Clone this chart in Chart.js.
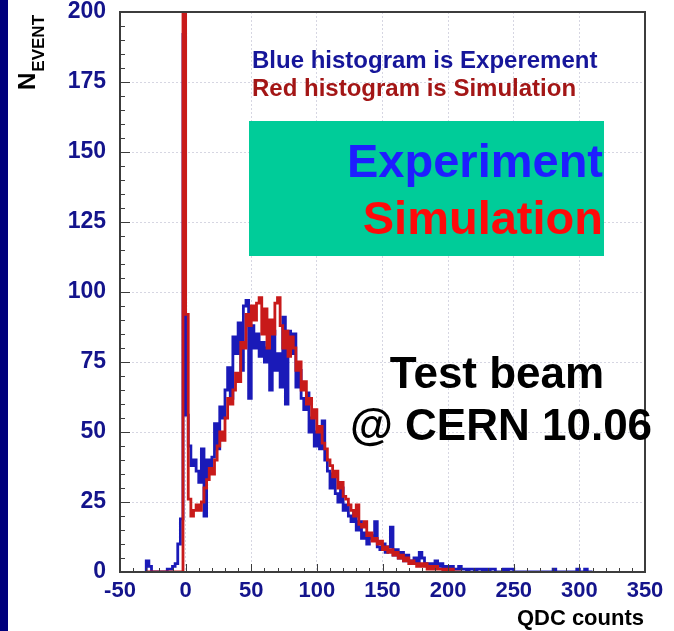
<!DOCTYPE html>
<html>
<head>
<meta charset="utf-8">
<title>QDC counts - test beam</title>
<script src="https://cdn.jsdelivr.net/npm/chart.js@4.4.0/dist/chart.umd.min.js"></script>
<style>
  html, body { margin: 0; padding: 0; background: #fff; }
  #wrap { width: 674px; height: 631px; }
</style>
</head>
<body>
<div id="wrap"><canvas id="qdc" width="674" height="631"></canvas></div>
<script>
// Binning of both histograms (QDC counts)
const binStart = -30;
const binWidth = 2;

// Blue = experiment, one value per bin, starting at -30
const expCounts = [
  0, 4, 2, 0, 0, 0, 0, 0, 0, 1,          // -30 .. -12
  1, 2, 3, 10, 19, 192, 56, 45, 38, 40,  // -10 .. 8
  36, 32, 44, 20, 40, 37, 41, 53, 44, 59, // 10 .. 28
  55, 65, 73, 62, 84, 78, 89, 72, 95, 97, // 30 .. 48
  62, 88, 80, 85, 77, 82, 75, 80, 65, 86, // 50 .. 68
  72, 78, 66, 91, 60, 86, 78, 85, 66, 72, // 70 .. 88
  62, 58, 64, 50, 55, 45, 50, 44, 54, 40, // 90 .. 108
  36, 30, 35, 28, 25, 30, 22, 24, 20, 18, // 110 .. 128
  22, 15, 18, 12, 14, 10, 13, 12, 18, 9,  // 130 .. 148
  8, 10, 7, 9, 16, 6, 8, 5, 7, 4,         // 150 .. 168
  6, 4, 3, 5, 3, 7, 5, 3, 2, 3,           // 170 .. 188
  2, 4, 2, 3, 1, 2, 1, 2, 1, 1,           // 190 .. 208
  2, 1, 1, 0, 1, 1, 0, 1, 1, 0,           // 210 .. 228
  1, 0, 1, 1, 0, 0, 0, 1, 0, 1,           // 230 .. 248
  1, 0, 0, 0, 0, 0, 0, 0, 0, 0,           // 250 .. 268
  0, 0, 0, 0, 0, 0, 1, 0, 0, 0,           // 270 .. 288
  0, 0, 0, 0, 0, 1, 0, 0, 1, 0            // 290 .. 308
];

// Red = simulation, same binning
const simCounts = [
  0, 0, 0, 0, 0, 0, 0, 0, 0, 0,           // -30 .. -12
  0, 0, 0, 0, 0, 400, 92, 26, 20, 22,     // -10 .. 8
  24, 22, 25, 30, 33, 37, 35, 40, 45, 50, // 10 .. 28
  47, 55, 62, 60, 65, 71, 68, 82, 80, 92, // 30 .. 48
  88, 95, 90, 96, 98, 85, 94, 80, 90, 85, // 50 .. 68
  96, 98, 88, 80, 86, 77, 84, 80, 72, 75, // 70 .. 88
  65, 68, 60, 62, 55, 58, 50, 52, 46, 44, // 90 .. 108
  40, 38, 34, 36, 30, 32, 27, 26, 24, 22, // 110 .. 128
  20, 24, 17, 16, 18, 13, 14, 11, 12, 10, // 130 .. 148
  11, 8, 9, 7, 8, 6, 7, 5, 6, 4,          // 150 .. 168
  5, 3, 4, 3, 2, 3, 2, 3, 1, 2,           // 170 .. 188
  1, 2, 1, 1, 0, 1, 0, 1, 0, 0            // 190 .. 208
];

const xTicks = [-50, 0, 50, 100, 150, 200, 250, 300, 350];
const yTicks = [0, 25, 50, 75, 100, 125, 150, 175, 200];

const FONT = "'Liberation Sans', Arial, Helvetica, sans-serif";
const BLUE = '#1a1ab8';
const RED = '#c81a1a';

// bin edges -> step points
function histPoints(counts){
  const pts = counts.map((c, i) => ({ x: binStart + i*binWidth, y: c }));
  pts.push({ x: binStart + counts.length*binWidth, y: 0 });
  return pts;
}

function txt(ctx, s, x, y, size, color, align){
  ctx.font = `bold ${size}px ${FONT}`;
  ctx.fillStyle = color;
  ctx.textAlign = align || 'left';
  ctx.textBaseline = 'alphabetic';
  ctx.fillText(s, x, y);
}

const decorations = {
  id: 'decorations',
  beforeDraw(chart){
    const ctx = chart.ctx;
    ctx.save();
    ctx.fillStyle = '#fff';
    ctx.fillRect(0, 0, chart.width, chart.height);
    ctx.fillStyle = '#00007c';
    ctx.fillRect(0, 0, 8, chart.height);
    ctx.restore();
  },
  beforeDatasetsDraw(chart){
    const ctx = chart.ctx;
    ctx.save();
    // green label box
    ctx.fillStyle = '#00cc99';
    ctx.fillRect(249, 121, 355, 135);
    txt(ctx, 'Experiment', 603, 177, 47, '#1e1eff', 'right');
    txt(ctx, 'Simulation', 603, 234, 47, '#ff0a0a', 'right');
    ctx.restore();
  },
  afterDraw(chart){
    const ctx = chart.ctx;
    const a = chart.chartArea;
    const xs = chart.scales.x, ys = chart.scales.y;
    ctx.save();
    // frame
    ctx.strokeStyle = '#3c3c3c';
    ctx.lineWidth = 2;
    ctx.strokeRect(a.left, a.top, a.right - a.left, a.bottom - a.top);
    // minor / major tick marks
    ctx.lineWidth = 1;
    ctx.beginPath();
    for(let v = 0; v <= 200; v += 5){
      const y = Math.round(ys.getPixelForValue(v)) + 0.5;
      const len = v % 25 === 0 ? 10 : 5;
      ctx.moveTo(a.left, y); ctx.lineTo(a.left + len, y);
    }
    for(let v = -50; v <= 350; v += 10){
      const x = Math.round(xs.getPixelForValue(v)) + 0.5;
      const len = v % 50 === 0 ? 8 : 4;
      ctx.moveTo(x, a.bottom); ctx.lineTo(x, a.bottom - len);
    }
    ctx.stroke();

    // legend-like notes
    txt(ctx, 'Blue histogram is Experement', 252, 68, 24, '#16169a');
    txt(ctx, 'Red histogram is Simulation', 252, 96, 24, '#a31616');
    txt(ctx, 'Test beam', 497, 388, 44, '#000', 'center');
    txt(ctx, '@ CERN 10.06', 501, 440, 44, '#000', 'center');

    // axis titles
    txt(ctx, 'QDC counts', 644, 625, 22, '#000', 'right');
    ctx.translate(35, 90);
    ctx.rotate(-Math.PI/2);
    txt(ctx, 'N', 0, 0, 24, '#000');
    const nw = ctx.measureText('N').width;
    txt(ctx, 'EVENT', nw + 1, 9, 17, '#000');
    ctx.restore();
  }
};

new Chart(document.getElementById('qdc'), {
  type: 'line',
  data: {
    datasets: [
      { label: 'Simulation', data: histPoints(simCounts), borderColor: RED, borderWidth: 2.8,
        stepped: 'after', pointRadius: 0, fill: false, order: 1 },
      { label: 'Experiment', data: histPoints(expCounts), borderColor: BLUE, borderWidth: 2.8,
        stepped: 'after', pointRadius: 0, fill: false, order: 2 }
    ]
  },
  options: {
    responsive: false,
    animation: false,
    layout: { padding: { top: 12, right: 29, left: 0, bottom: 0 } },
    plugins: { legend: { display: false }, tooltip: { enabled: false } },
    scales: {
      x: {
        type: 'linear', min: -50, max: 350,
        afterBuildTicks: s => { s.ticks = xTicks.map(v => ({ value: v })); },
        afterFit: s => { s.height = 59; s.paddingLeft = 0; s.paddingRight = 0; },
        grid: { color: '#d6d6e2', lineWidth: 1, drawTicks: false },
        border: { display: false, dash: [2, 2] },
        ticks: { color: '#14148c', font: { family: FONT, size: 22, weight: 'bold' },
                 padding: 6, maxRotation: 0, autoSkip: false }
      },
      y: {
        type: 'linear', min: 0, max: 200,
        afterBuildTicks: s => { s.ticks = yTicks.map(v => ({ value: v })); },
        afterFit: s => { s.width = 120; s.paddingTop = 0; s.paddingBottom = 0; },
        grid: { color: '#d6d6e2', lineWidth: 1, drawTicks: false },
        border: { display: false, dash: [2, 2] },
        ticks: { color: '#14148c', font: { family: FONT, size: 23, weight: 'bold' },
                 padding: 14, autoSkip: false }
      }
    }
  },
  plugins: [decorations]
});
</script>
</body>
</html>
